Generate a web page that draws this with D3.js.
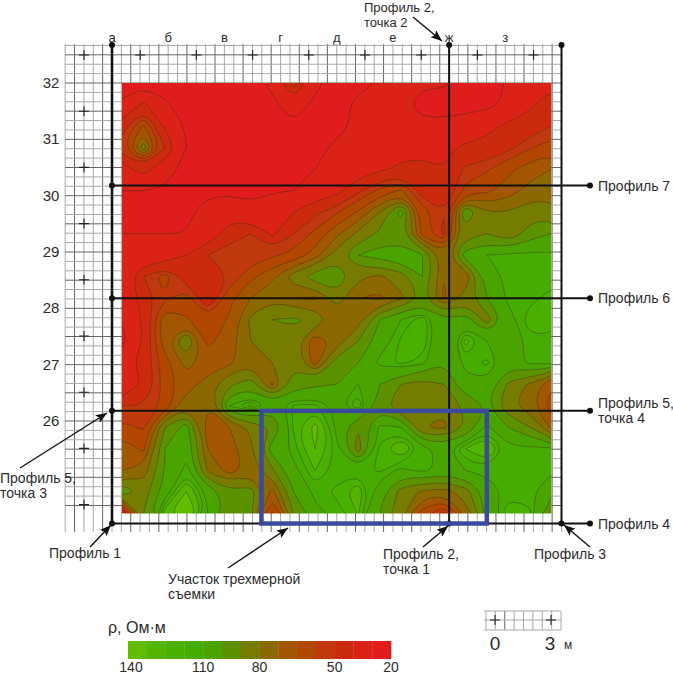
<!DOCTYPE html>
<html><head><meta charset="utf-8">
<script src="https://d3js.org/d3.v7.min.js"></script>
<style>html,body{margin:0;padding:0;background:#fff}svg{display:block}text{font-family:"Liberation Sans",Arial,sans-serif;fill:#2b2b2b}</style>
</head><body>
<script>
// --- data ---
const rhoRows = [
[25,25,25,25,25,25,25,30,55,30,25,25,29,29,29,29,25,25,29,33,38],
[29,42,29,25,25,25,25,26,33,26,25,30,33,30,25,25,25,25,30,38,45],
[45,65,38,27,25,25,25,26,27,26,25,30,33,30,30,30,32,38,42,45,50],
[55,85,50,28,25,25,27,27,25,25,30,33,35,36,38,38,42,42,48,55,60],
[35,45,32,25,25,25,27,25,25,28,30,34,38,42,42,40,52,55,62,68,72],
[28,28,27,27,27,26,26,27,28,32,36,48,58,65,45,42,58,62,68,75,75],
[25,27,25,27,30,35,30,35,40,48,55,65,80,105,60,50,100,80,80,85,85],
[28,28,28,28,32,45,50,38,50,58,70,82,92,92,60,48,85,90,80,95,100],
[30,30,32,40,50,55,50,55,58,68,85,100,105,108,100,75,105,110,112,112,112],
[30,50,60,45,40,50,62,70,85,95,100,82,78,85,100,72,72,105,112,112,112],
[28,45,55,60,42,62,72,78,72,70,85,72,70,78,92,70,85,100,112,112,116],
[28,42,70,65,58,65,82,90,92,88,72,75,100,110,118,100,105,85,106,118,118],
[25,40,70,90,62,68,80,88,85,65,75,90,105,115,118,100,120,110,105,112,112],
[35,45,60,75,68,70,78,80,88,68,95,100,112,115,112,100,112,115,105,112,112],
[30,40,60,68,75,88,95,70,95,98,100,110,100,90,85,90,108,108,88,78,65],
[50,50,58,78,72,110,120,105,115,115,108,118,95,80,82,82,92,100,82,75,60],
[58,55,90,105,65,72,82,90,115,128,108,90,112,110,80,78,90,112,100,90,70],
[70,62,100,108,72,68,78,105,112,125,112,85,115,125,112,108,118,125,112,112,112],
[72,75,100,112,78,68,75,88,108,118,112,112,115,108,112,108,110,112,112,112,112],
[100,85,105,125,108,92,95,68,100,112,115,122,105,85,78,75,85,105,112,112,100],
[40,90,122,140,110,95,92,55,90,108,112,118,100,85,60,48,75,105,118,115,95]];
const classEdges = [140,125,118,114,110,100,90,80,72,64,56,50,40,28,20];
const classColors = ["#62bc00","#52b500","#4ab000","#46ac00","#4aa400","#5c9200","#767c00","#8c6800","#a25600","#b24604","#c0380a","#cc2c10","#da2216","#e01b1f"];
const legendTicks = [140,110,80,50,20];
const profileRows = [{label:"Профиль 7",v:30.18},{label:"Профиль 6",v:28.18},{label:"Профиль 5,",v:26.18},{label:"Профиль 4",v:24.18}];
const columnLetters = ["а","б","в","г","д","е","ж","з"];
const rowTicks = [32,31,30,29,28,27,26];

const W=673,H=674;
const svg=d3.select("body").append("svg").attr("width",W).attr("height",H);
const x=d3.scaleLinear().domain([0,8]).range([112,561.5]);
const y=d3.scaleLinear().domain([32,26]).range([83,421]);
const mapX=[0.178,7.82], mapY=[32,24.36];
const defs=svg.append("defs");
defs.append("clipPath").attr("id","mapclip").append("rect")
 .attr("x",x(mapX[0])).attr("y",y(mapY[0])).attr("width",x(mapX[1])-x(mapX[0])).attr("height",y(mapY[1])-y(mapY[0]));
defs.append("filter").attr("id","soft").append("feGaussianBlur").attr("stdDeviation",0.45);
const mk=defs.append("marker").attr("id","arr").attr("viewBox","0 0 10 8").attr("refX",10).attr("refY",4)
 .attr("markerWidth",13).attr("markerHeight",9).attr("markerUnits","userSpaceOnUse").attr("orient","auto");
mk.append("path").attr("d","M0,0L10,4L0,8L2,4Z").attr("fill","#111");

// grid
const gridG=svg.append("g");
const gx=d3.range(-5,49).map(i=>i/6), gy=d3.range(-7,46).map(i=>32+1/6*7-(i+7)/6);
gx.forEach((v,i)=>gridG.append("line").attr("x1",x(v)).attr("x2",x(v)).attr("y1",44).attr("y2",532)
 .attr("stroke",(i%3==1)?"#666":"#a8a8a8").attr("stroke-width",1));
gy.forEach(v=>{const k=Math.round((32-v)*6);
 if(y(v)<44||y(v)>533)return;
 gridG.append("line").attr("x1",65).attr("x2",562).attr("y1",y(v)).attr("y2",y(v))
 .attr("stroke",(k%3==0)?"#666":"#a8a8a8").attr("stroke-width",1);});
// crosses
const cross=(g,cx,cy)=>{g.append("path").attr("d",`M${cx-5},${cy}H${cx+5}M${cx},${cy-5}V${cy+5}`).attr("stroke","#222").attr("stroke-width",1.1).attr("fill","none");};
d3.range(0,9).forEach(i=>{cross(gridG,84+i*56.2,55);});
d3.range(1,9).forEach(i=>{cross(gridG,84,55+i*56.2);});

// map
const nx=rhoRows[0].length, ny=rhoRows.length;
const px=d3.scaleLinear().domain([0.5,nx-0.5]).range([x(mapX[0]),x(mapX[1])]);
const py=d3.scaleLinear().domain([0.5,ny-0.5]).range([y(mapY[0]),y(mapY[1])]);
const values=rhoRows.flat();
const levels=classEdges.slice().reverse();
const colorsUp=classColors.slice().reverse();
const cont=d3.contours().size([nx,ny]).smooth(true).thresholds(levels.slice(1,-1));
const bands=cont(values);
const ringLine=d3.line().x(d=>px(d[0])).y(d=>py(d[1])).curve(d3.curveBasisClosed);
const pathOf=g=>g.coordinates.map(poly=>poly.map(r=>ringLine(r.slice(0,-1))).join("")).join("");
const map=svg.append("g").attr("clip-path","url(#mapclip)").attr("filter","url(#soft)");
map.append("rect").attr("x",x(mapX[0])).attr("y",y(mapY[0])).attr("width",x(mapX[1])-x(mapX[0])).attr("height",y(mapY[1])-y(mapY[0])).attr("fill",colorsUp[0]);
map.selectAll("path.f").data(bands).join("path").attr("class","f").attr("d",pathOf).attr("fill",(d,i)=>colorsUp[i+1]);
map.selectAll("path.l").data(bands).join("path").attr("class","l").attr("d",pathOf).attr("fill","none").attr("stroke","#3a2a10").attr("stroke-opacity",0.5).attr("stroke-width",0.8);

// profile lines
const ink="#111";
const dot=(cx,cy)=>svg.append("circle").attr("cx",cx).attr("cy",cy).attr("r",3).attr("fill",ink);
[0,6,8].forEach(v=>{svg.append("line").attr("x1",x(v)).attr("x2",x(v)).attr("y1",45).attr("y2",y(24.18)).attr("stroke",ink).attr("stroke-width",v==0?2.6:2);dot(x(v),45);});
profileRows.forEach(p=>{svg.append("line").attr("x1",x(0)).attr("x2",590).attr("y1",y(p.v)).attr("y2",y(p.v)).attr("stroke",ink).attr("stroke-width",2);
 dot(590,y(p.v));dot(x(0),y(p.v));});
dot(x(6),y(24.18));dot(x(8),y(24.18));
// survey rectangle
svg.append("rect").attr("x",x(2.66)).attr("y",y(26.18)).attr("width",x(6.67)-x(2.66)).attr("height",y(24.18)-y(26.18)).attr("fill","none").attr("stroke","#3b4a9e").attr("stroke-width",4.5);

// text
const T=(s,tx,ty,fs,anchor)=>svg.append("text").attr("x",tx).attr("y",ty).attr("font-size",fs).attr("text-anchor",anchor||"start").text(s);
rowTicks.forEach(v=>T(v,51,y(v)+5,15,"middle"));
columnLetters.forEach((c,i)=>T(c,x(i),42,13,"middle"));
T("Профиль 2,",364,12,13);T("точка 2",364,27,13);
profileRows.forEach(p=>T(p.label,598,y(p.v)+(p.label.endsWith(",")?-3:5),14));
T("точка 4",598,423,14);
T("Профиль 5,",0,483,14);T("точка 3",0,498,14);
T("Профиль 1",49,558,14);
T("Участок трехмерной",168,584,14);T("съемки",168,599,14);
T("Профиль 2,",383,559,14);T("точка 1",383,574,14);
T("Профиль 3",534,559,14);
// arrows
const arrow=(a,b,c,d)=>svg.append("line").attr("x1",a).attr("y1",b).attr("x2",c).attr("y2",d).attr("stroke","#111").attr("stroke-width",1.4).attr("marker-end","url(#arr)");
arrow(413,17,442,41);arrow(20,468,107,413);arrow(90,547,111,525);arrow(228,568,288,528);arrow(423,547,448,526);arrow(590,547,564,525);

// legend
const lx=d3.scaleLinear().domain([0,classColors.length]).range([128,391]);
const lg=svg.append("g").attr("filter","url(#soft)");
lg.selectAll("rect").data(classColors).join("rect").attr("x",(d,i)=>lx(i)).attr("y",641).attr("width",lx(1)-lx(0)+0.3).attr("height",18).attr("fill",d=>d);
legendTicks.forEach(v=>{const i=classEdges.indexOf(v);T(v,Math.max(lx(i),131),672,14,"middle");});
T("ρ, Ом·м",108,633,16);

// scale bar
const sb=svg.append("g");
d3.range(0,9).forEach(i=>sb.append("line").attr("x1",486+i*9.38).attr("x2",486+i*9.38).attr("y1",611).attr("y2",630).attr("stroke",i==2?"#666":"#a8a8a8"));
[611,620,630].forEach(v=>sb.append("line").attr("x1",484).attr("x2",561).attr("y1",v).attr("y2",v).attr("stroke","#a8a8a8"));
cross(sb,495,620);cross(sb,551,620);
T("0",495,650,19,"middle");T("3",550,650,19,"middle");T("м",568,649,12,"middle");
</script>
</body></html>
